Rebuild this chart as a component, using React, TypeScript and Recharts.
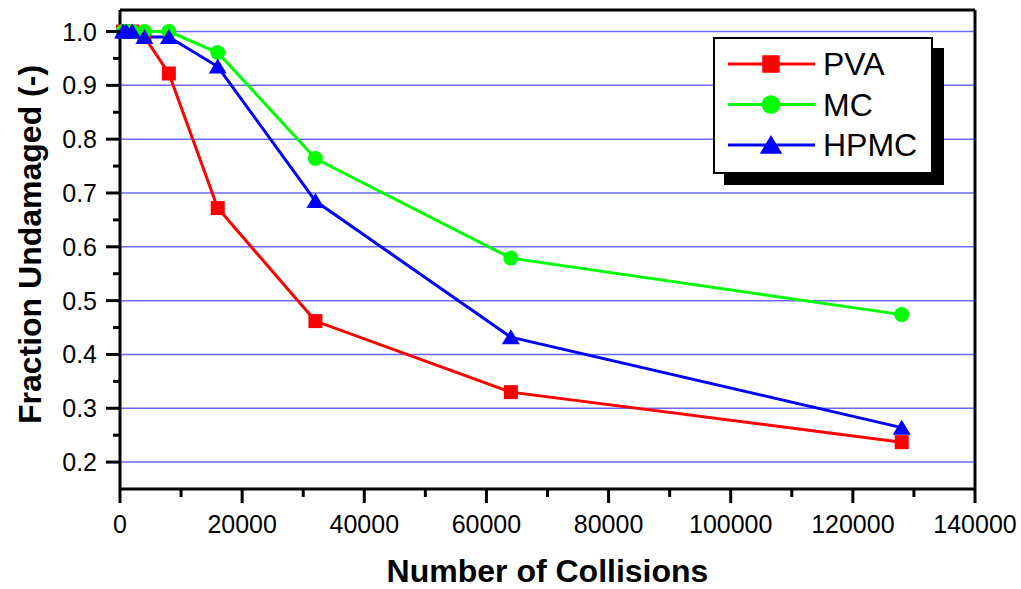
import React from 'react';
import { LineChart, Line, XAxis, YAxis, CartesianGrid, Legend } from 'recharts';

// values
const collisions = [500, 1000, 2000, 4000, 8000, 16000, 32000, 64000, 128000];
const pva = [1.0, 1.0, 1.0, 0.99, 0.922, 0.672, 0.462, 0.33, 0.237];
const mc = [1.0, 1.0, 1.0, 1.0, 1.0, 0.961, 0.764, 0.579, 0.474];
const hpmc = [1.0, 1.0, 1.0, 0.99, 0.99, 0.935, 0.685, 0.432, 0.264];

const seriesNames = ['PVA', 'MC', 'HPMC'];
const seriesKeys = ['pva', 'mc', 'hpmc'];
const seriesColors = ['#ff0000', '#00ff00', '#0000ff'];
const seriesShapes = ['square', 'circle', 'triangle'];

const xMajor = [0, 20000, 40000, 60000, 80000, 100000, 120000, 140000];
const xMinor = [10000, 30000, 50000, 70000, 90000, 110000, 130000];
const yMajor = [0.2, 0.3, 0.4, 0.5, 0.6, 0.7, 0.8, 0.9, 1.0];
const yMinor = [0.25, 0.35, 0.45, 0.55, 0.65, 0.75, 0.85, 0.95];

const xTicks = [...xMajor, ...xMinor].sort((a, b) => a - b);
const yTicks = [...yMajor, ...yMinor].sort((a, b) => a - b);

const data = collisions.map((c, i) => ({ collisions: c, pva: pva[i], mc: mc[i], hpmc: hpmc[i] }));

const FONT = '"Liberation Sans", Arial, sans-serif';
const TS = 14;
const YTM = 9;
const XTM = 12;

const Marker = ({ shape, cx, cy, color, size = 1 }: any) => {
  if (shape === 'square') {
    const h = 7 * size;
    return <rect x={cx - h} y={cy - h} width={h * 2} height={h * 2} fill={color} />;
  }
  if (shape === 'circle') {
    return <circle cx={cx} cy={cy} r={7.5 * size} fill={color} />;
  }
  const w = 9 * size;
  return (
    <polygon
      points={`${cx},${cy - 8 * size} ${cx - w},${cy + 7 * size} ${cx + w},${cy + 7 * size}`}
      fill={color}
    />
  );
};

const LeftTick = ({ x, y, payload }: any) => {
  const axisX = x + TS + YTM;
  const major = yMajor.includes(payload.value);
  return (
    <g>
      <line x1={axisX - (major ? 14 : 7)} x2={axisX} y1={y} y2={y} stroke="#000" strokeWidth={3} />
      {major && (
        <text x={x} y={y} textAnchor="end" dominantBaseline="central" fontSize={25} fontFamily={FONT} fill="#000">
          {payload.value.toFixed(1)}
        </text>
      )}
    </g>
  );
};

const BottomTick = ({ x, y, payload }: any) => {
  const axisY = y - TS - XTM;
  const major = xMajor.includes(payload.value);
  return (
    <g>
      <line x1={x} x2={x} y1={axisY} y2={axisY + (major ? 14 : 8)} stroke="#000" strokeWidth={3} />
      {major && (
        <text x={x} y={y} dy="0.72em" textAnchor="middle" fontSize={25} fontFamily={FONT} fill="#000">
          {payload.value}
        </text>
      )}
    </g>
  );
};

const XTitle = ({ viewBox }: any) => (
  <text
    x={viewBox.x + viewBox.width / 2}
    y={viewBox.y + viewBox.height - 7}
    textAnchor="middle"
    fontSize={32}
    fontWeight="bold"
    fontFamily={FONT}
    fill="#000"
  >
    Number of Collisions
  </text>
);

const YTitle = ({ viewBox }: any) => {
  const cx = viewBox.x + 30;
  const cy = viewBox.y + viewBox.height / 2 - 5;
  return (
    <text
      x={cx}
      y={cy}
      transform={`rotate(-90 ${cx} ${cy})`}
      textAnchor="middle"
      dominantBaseline="central"
      fontSize={32}
      fontWeight="bold"
      fontFamily={FONT}
      fill="#000"
    >
      Fraction Undamaged (-)
    </text>
  );
};

const LegendBox = () => (
  <div
    style={{
      width: 220,
      height: 137,
      boxSizing: 'border-box',
      border: '2px solid #000',
      background: '#fff',
      boxShadow: '11px 11px 0 #000',
    }}
  >
    <svg width={216} height={133}>
      {seriesNames.map((name, i) => {
        const cy = 25 + i * 40.5;
        return (
          <g key={name}>
            <line x1={13} x2={100} y1={cy} y2={cy} stroke={seriesColors[i]} strokeWidth={3} />
            <Marker shape={seriesShapes[i]} cx={56} cy={cy} color={seriesColors[i]} size={1.25} />
            <text x={108} y={cy} dominantBaseline="central" fontSize={32} fontFamily={FONT} fill="#000">
              {name}
            </text>
          </g>
        );
      })}
    </svg>
  </div>
);

export default function App() {
  return (
    <div style={{ width: 1021, height: 589, background: '#fff' }}>
      <style>{`body{margin:0}`}</style>
      <LineChart width={1021} height={589} data={data} margin={{ top: 0, right: 0, bottom: 0, left: 0 }}>
        <CartesianGrid
          yAxisId="left"
          vertical={false}
          horizontalValues={yMajor}
          stroke="#6a6aff"
          strokeWidth={1.5}
        />
        <XAxis
          dataKey="collisions"
          type="number"
          domain={[0, 140000]}
          ticks={xTicks}
          interval={0}
          height={100}
          tickSize={TS}
          tickMargin={XTM}
          tickLine={false}
          tick={<BottomTick />}
          axisLine={{ stroke: '#000', strokeWidth: 3 }}
          label={<XTitle />}
        />
        <XAxis
          xAxisId="top"
          orientation="top"
          type="number"
          dataKey="collisions"
          domain={[0, 140000]}
          ticks={xTicks}
          interval={0}
          height={10}
          tickSize={3}
          tick={false}
          tickLine={{ stroke: '#000', strokeWidth: 2 }}
          axisLine={{ stroke: '#000', strokeWidth: 3 }}
        />
        <YAxis
          yAxisId="left"
          type="number"
          domain={[0.15, 1.04]}
          allowDataOverflow
          ticks={yTicks}
          interval={0}
          width={120}
          tickSize={TS}
          tickMargin={YTM}
          tickLine={false}
          tick={<LeftTick />}
          axisLine={{ stroke: '#000', strokeWidth: 3 }}
          label={<YTitle />}
        />
        <YAxis
          yAxisId="right"
          orientation="right"
          type="number"
          domain={[0.15, 1.04]}
          allowDataOverflow
          ticks={yTicks}
          interval={0}
          width={46}
          tickSize={3}
          tick={false}
          tickLine={{ stroke: '#000', strokeWidth: 2 }}
          axisLine={{ stroke: '#000', strokeWidth: 3 }}
        />
        <Legend
          layout="vertical"
          align="center"
          verticalAlign="middle"
          wrapperStyle={{ position: 'absolute', left: 713, top: 37, width: 220, height: 137 }}
          content={<LegendBox />}
        />
        {seriesKeys.map((key, i) => (
          <Line
            key={key}
            yAxisId="left"
            type="linear"
            dataKey={key}
            name={seriesNames[i]}
            stroke={seriesColors[i]}
            strokeWidth={3}
            isAnimationActive={false}
            dot={(p: any) => (
              <Marker key={`${key}-${p.index}`} shape={seriesShapes[i]} cx={p.cx} cy={p.cy} color={seriesColors[i]} />
            )}
            activeDot={false}
          />
        ))}
      </LineChart>
    </div>
  );
}
